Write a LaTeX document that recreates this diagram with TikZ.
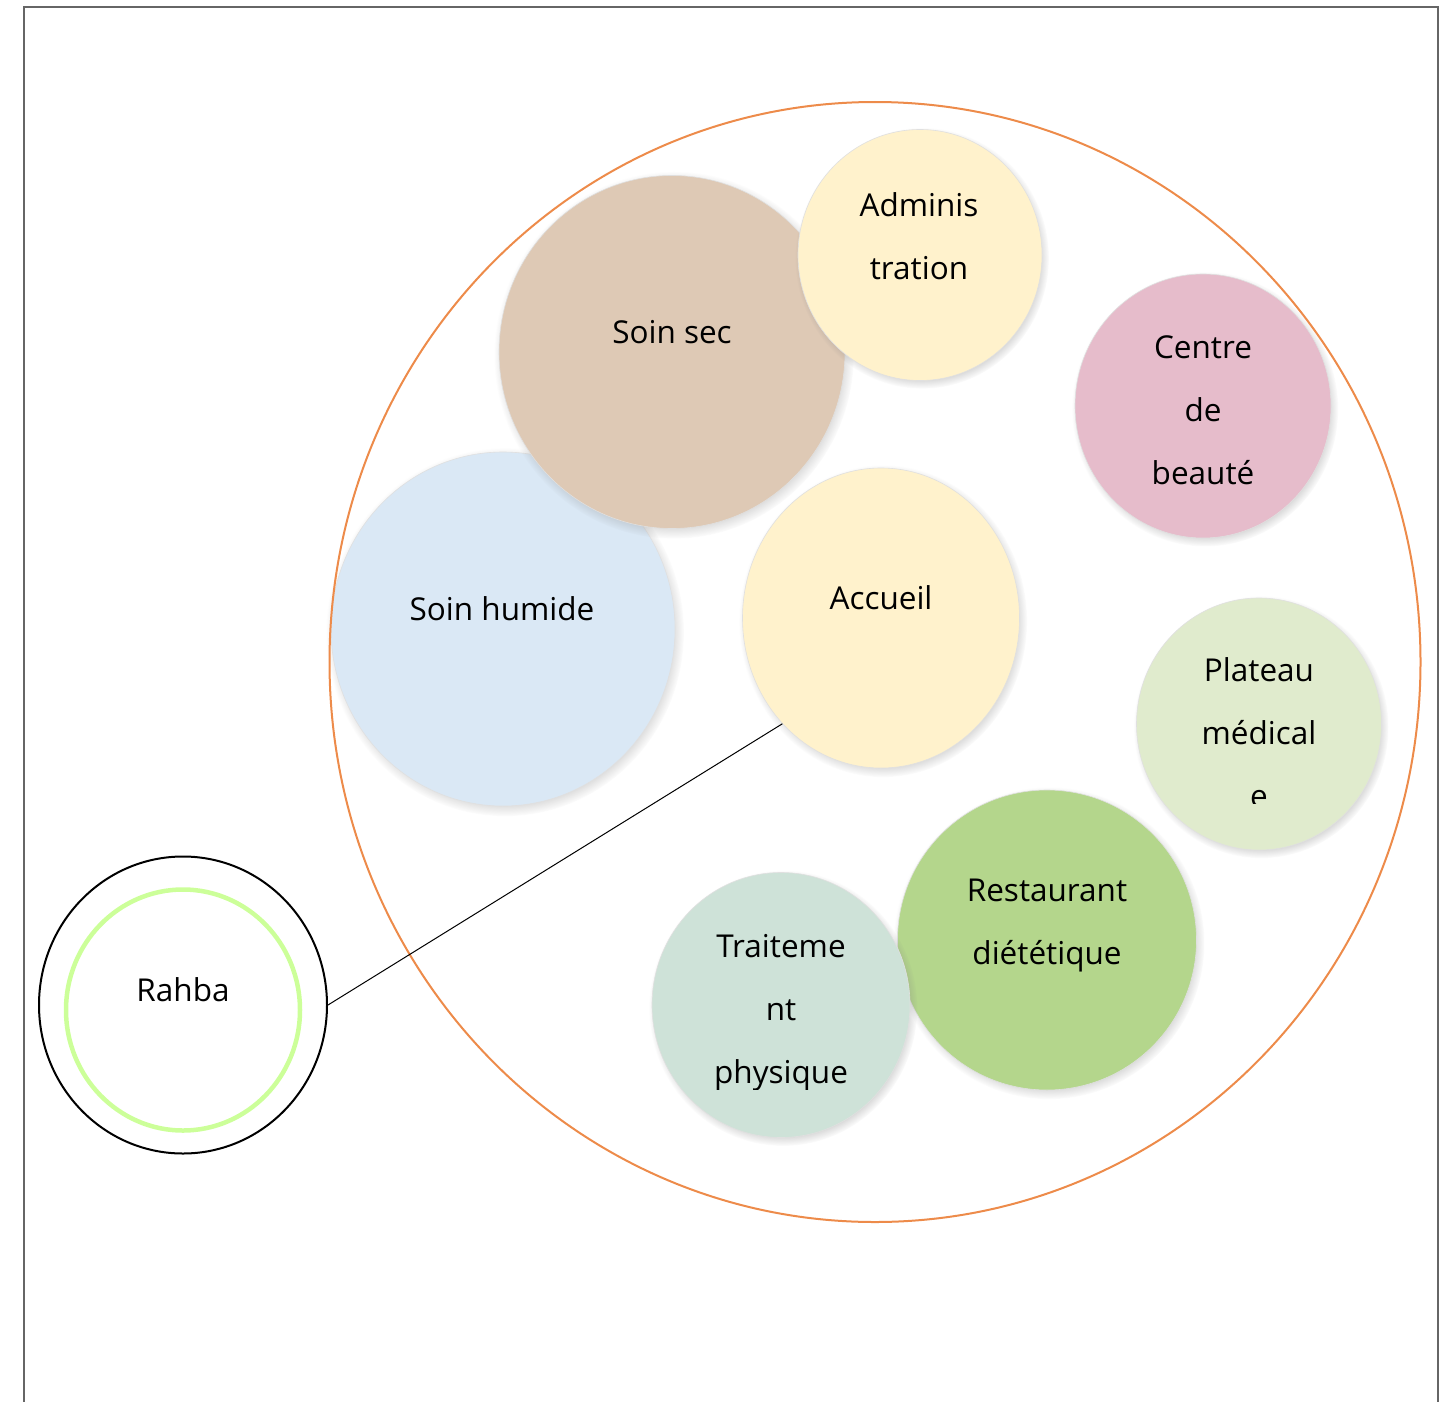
\documentclass[tikz,border=0pt]{standalone}
\usepackage{fontspec}
\setmainfont{Open Sans}
\usepackage{tikz}
\usetikzlibrary{shapes.geometric, shadows, positioning}

\definecolor{sectan}{HTML}{DEC9B5}
\definecolor{creme}{HTML}{FFF2CC}
\definecolor{rose}{HTML}{E6BCCB}
\definecolor{bleuclair}{HTML}{DAE8F5}
\definecolor{vertpale}{HTML}{E0EBCD}
\definecolor{vertresto}{HTML}{B4D68C}
\definecolor{vertgris}{HTML}{CEE2D8}
\definecolor{orangeline}{HTML}{ED8B4A}
\definecolor{vertrahba}{HTML}{CCFF99}

\begin{document}
\begin{tikzpicture}[
        x=1pt, y=-1pt,
        room/.style={ellipse, inner sep=0pt, draw=black!12, line width=0.6pt,
            circular drop shadow={shadow xshift=2pt, shadow yshift=-3pt, shadow scale=1.04, opacity=.6}},
        lbl/.style={align=center, inner sep=0pt, font=\fontsize{31.5}{63}\selectfont}
        ]
        \useasboundingbox (0,0) rectangle (1453,1402);
        % page frame, open at the bottom
        \draw [black!60, line width=2pt] (24,1402) -- (24,7) -- (1438,7) -- (1438,1402);

        \node (humide) [room, fill=bleuclair, minimum width=344, minimum height=354] at (503,629) {};
        \node (soinsec) [room, fill=sectan, minimum width=346, minimum height=353] at (672,352) {};
        \node (admin) [room, fill=creme, minimum width=244, minimum height=251] at (920,255) {};
        \node (beaute) [room, fill=rose, minimum width=256, minimum height=264] at (1203,406) {};
        \node (accueil) [room, fill=creme, minimum width=277, minimum height=300] at (881,618) {};
        \node (plateau) [room, fill=vertpale, minimum width=245, minimum height=252] at (1259,724) {};
        \node (resto) [room, fill=vertresto, minimum width=299, minimum height=300] at (1047,940) {};
        \node (traitement) [room, fill=vertgris, minimum width=258, minimum height=265] at (781,1005) {};

        \node (humide-t) [lbl] at (502,609) {Soin humide};
        \node (soinsec-t) [lbl] at (672,332) {Soin sec};
        \node (admin-t) [lbl] at (919,236) {Adminis\\tration};
        \node (beaute-t) [lbl] at (1203,410) {Centre\\de\\beauté};
        \node (accueil-t) [lbl] at (881,598) {Accueil};
        \node (resto-t) [lbl] at (1047,926) {Restaurant\\diététique};
        \begin{scope}
            \clip (1100,600) rectangle (1400,803);
            \node (plateau-t) [lbl] at (1259,733) {Plateau\\médical\\e};
        \end{scope}
        \begin{scope}
            \clip (640,880) rectangle (920,1089);
            \node (traitement-t) [lbl] at (781,1013) {Traiteme\\nt\\physique};
        \end{scope}

        \node (centre) [ellipse, draw=orangeline, line width=2pt, inner sep=0pt, minimum width=1091, minimum height=1120] at (875,662) {};

        \node (rahba) [ellipse, draw, line width=2pt, inner sep=0pt, minimum width=288, minimum height=297] at (183,1005) {};
        \node (rahba-in) [ellipse, draw=vertrahba, line width=4.5pt, inner sep=0pt, minimum width=234, minimum height=241] at (183,1010) {};
        \node (rahba-t) [lbl] at (183,990) {Rahba};

        \draw [line width=1pt] (rahba.east) -- (accueil.227);
\end{tikzpicture}
\end{document}
